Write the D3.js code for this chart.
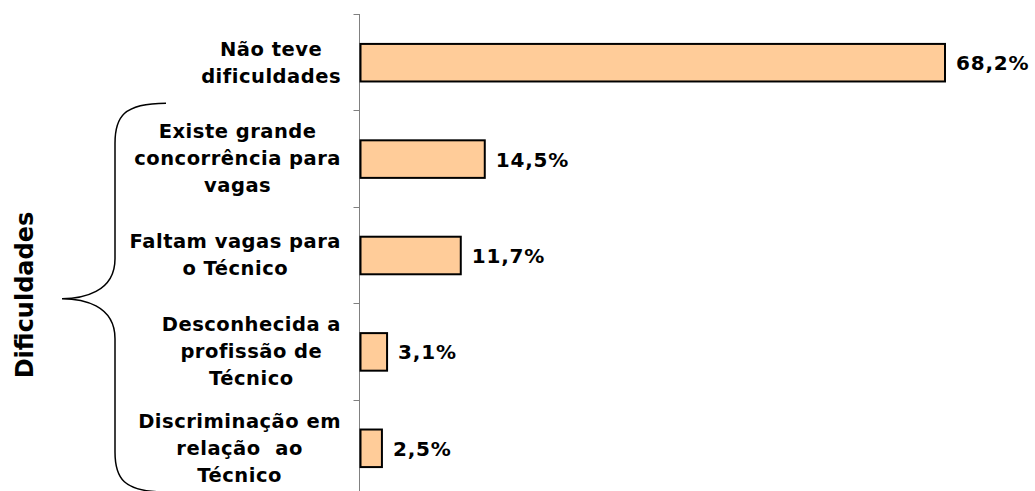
<!DOCTYPE html>
<html lang="pt">
  <head>
    <meta charset="utf-8">
    <title>Dificuldades</title>
    <script type="text/javascript" src="https://d3js.org/d3.v7.min.js"></script>
    <style type="text/css">
    body { margin: 0; background: #fff; }
    .catlabel, .vallabel, .grouplabel {
      font-family: "DejaVu Sans", Verdana, sans-serif;
      font-weight: bold;
      fill: #000;
    }
    .catlabel { font-size: 19.5px; white-space: pre; }
    .vallabel { font-size: 20px; }
    .grouplabel { font-size: 24px; }
    </style>
  </head>
  <body>
    <svg width="1035" height="491" id="chart"></svg>
    <script type="text/javascript">

// data
const categories = [
  ["Não teve", "dificuldades"],
  ["Existe grande", "concorrência para", "vagas"],
  ["Faltam vagas para", "o Técnico"],
  ["Desconhecida a", "profissão de", "Técnico"],
  ["Discriminação em", "relação  ao", "Técnico"]
];
const values = [68.2, 14.5, 11.7, 3.1, 2.5];
const valueLabels = ["68,2%", "14,5%", "11,7%", "3,1%", "2,5%"];
const groupTitle = "Dificuldades";

const keys = categories.map(d => d.join(" "));
const dataset = keys.map((k, i) => ({key: k, lines: categories[i], value: values[i], label: valueLabels[i]}));

const axisX = 359.5;
const plotTop = 14;
const plotBottom = 496;
const lineH = 27;
const labelRight = 341;

const svg = d3.select("#chart");

const xScale = d3.scaleLinear()
    .domain([0, 68.2])
    .range([axisX, 944]);

const yScale = d3.scaleBand()
    .domain(keys)
    .range([plotTop, plotBottom])
    .paddingInner(0.6)
    .paddingOuter(0.3);

const step = yScale.step();
const bandTop = d => yScale(d) - step * 0.3;

// axis line + ticks between categories
svg.append("line")
    .attr("x1", axisX).attr("x2", axisX)
    .attr("y1", plotTop).attr("y2", 491)
    .attr("stroke", "#808080")
    .attr("stroke-width", 1);

const tickYs = keys.map(bandTop).concat([bandTop(keys[keys.length - 1]) + step]);
svg.selectAll(".tick")
    .data(tickYs)
    .enter()
    .append("line")
    .attr("class", "tick")
    .attr("x1", axisX - 6).attr("x2", axisX)
    .attr("y1", d => Math.round(d) + 0.5)
    .attr("y2", d => Math.round(d) + 0.5)
    .attr("stroke", "#808080");

// bars
svg.selectAll("rect")
    .data(dataset)
    .enter()
    .append("rect")
    .attr("x", xScale(0) + 1)
    .attr("y", d => yScale(d.key) + 1)
    .attr("width", d => xScale(d.value) - xScale(0))
    .attr("height", yScale.bandwidth() - 1)
    .attr("fill", "#FFCC99")
    .attr("stroke", "#000")
    .attr("stroke-width", 2);

// value labels
svg.selectAll(".vallabel")
    .data(dataset)
    .enter()
    .append("text")
    .attr("class", "vallabel")
    .attr("x", d => xScale(d.value) + 12)
    .attr("y", d => yScale(d.key) + yScale.bandwidth() / 2 + 1)
    .attr("dy", "0.35em")
    .attr("letter-spacing", "0.8px")
    .text(d => d.label);

// category labels (centred block, right-aligned to the axis)
dataset.forEach(d => {
  const cy = yScale(d.key) + yScale.bandwidth() / 2;
  const g = svg.append("g");
  const n = d.lines.length;
  const texts = d.lines.map((line, i) => g.append("text")
      .attr("class", "catlabel")
      .attr("xml:space", "preserve")
      .attr("text-anchor", "middle")
      .attr("letter-spacing", "0.5px")
      .attr("y", cy + (i - (n - 1) / 2) * lineH)
      .attr("dy", "0.35em")
      .text(line));
  const maxW = d3.max(texts, t => t.node().getComputedTextLength());
  texts.forEach(t => t.attr("x", labelRight - maxW / 2));
});

// brace around the "dificuldades" categories
const bTop = yScale(keys[1]) - 36;
const bBot = 492;
const bMid = (bTop + bBot) / 2 + 1;
const xs = 166, xv = 115, xp = 62;
const brace = d3.path();
brace.moveTo(xs, bTop);
brace.bezierCurveTo(xv + 8, bTop, xv, bTop + 14, xv, bTop + 40);
brace.lineTo(xv, bMid - 40);
brace.bezierCurveTo(xv, bMid - 6, xp + 20, bMid, xp, bMid);
brace.bezierCurveTo(xp + 20, bMid, xv, bMid + 6, xv, bMid + 40);
brace.lineTo(xv, bBot - 40);
brace.bezierCurveTo(xv, bBot - 14, xv + 8, bBot, xs, bBot);
svg.append("path")
    .attr("d", brace.toString())
    .attr("fill", "none")
    .attr("stroke", "#000")
    .attr("stroke-width", 1.5);

svg.append("text")
    .attr("class", "grouplabel")
    .attr("text-anchor", "middle")
    .attr("transform", "translate(33,295) rotate(-90)")
    .text(groupTitle);

    </script>
  </body>
</html>
